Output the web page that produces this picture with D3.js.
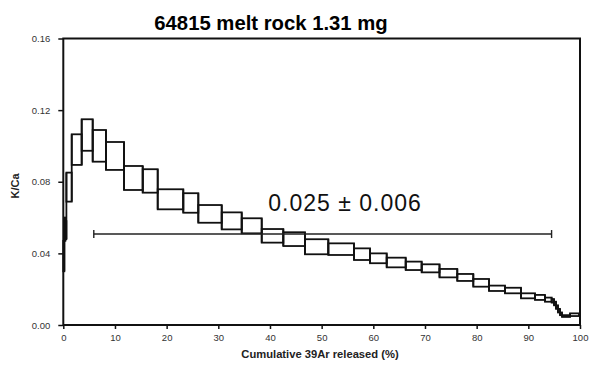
<!DOCTYPE html>
<html><head><meta charset="utf-8">
<script src="https://cdn.jsdelivr.net/npm/d3@7"></script>
<style>body{margin:0;background:#fff}</style>
</head><body>
<svg id="c" width="589" height="366"></svg>
<script>
// Step boundaries (cumulative % 39Ar released)
const stepStart = [0, 0.2, 0.4, 0.6, 1.63, 3.56, 5.69, 8.26, 11.75, 15.37, 18.27, 23.22, 26.13, 30.66, 34.53, 38.40, 42.58, 46.77, 51.29, 56.26, 59.36, 62.59, 66.27, 69.36, 72.81, 76.25, 79.35, 82.39, 85.48, 88.58, 91.29, 93.22, 94.52, 94.97, 95.36, 95.74, 96.13, 96.52, 98.07];
const stepEnd   = [0.2, 0.4, 0.6, 1.63, 3.56, 5.69, 8.26, 11.75, 15.37, 18.27, 23.22, 26.13, 30.66, 34.53, 38.40, 42.58, 46.77, 51.29, 56.26, 59.36, 62.59, 66.27, 69.36, 72.81, 76.25, 79.35, 82.39, 85.48, 88.58, 91.29, 93.22, 94.52, 94.97, 95.36, 95.74, 96.13, 96.52, 98.07, 99.8];
// K/Ca upper and lower bounds per step
const kcaHigh = [0.047, 0.060, 0.058, 0.0851, 0.1065, 0.1149, 0.1089, 0.1022, 0.0888, 0.0870, 0.0758, 0.0736, 0.0670, 0.0629, 0.0596, 0.0536, 0.0518, 0.0479, 0.0456, 0.0428, 0.0400, 0.0376, 0.0354, 0.0339, 0.0313, 0.0285, 0.0257, 0.0220, 0.0208, 0.0177, 0.0168, 0.0153, 0.0145, 0.0130, 0.0110, 0.0090, 0.0070, 0.0055, 0.0065];
const kcaLow  = [0.030, 0.047, 0.048, 0.0689, 0.0894, 0.0973, 0.0912, 0.0866, 0.0754, 0.0739, 0.0646, 0.0627, 0.0571, 0.0534, 0.0512, 0.0460, 0.0441, 0.0395, 0.0391, 0.0363, 0.0345, 0.0322, 0.0307, 0.0294, 0.0266, 0.0246, 0.0214, 0.0190, 0.0177, 0.0149, 0.0140, 0.0130, 0.0125, 0.0110, 0.0090, 0.0070, 0.0055, 0.0045, 0.0050];
// Averaged range bar
const barRange = [5.9, 94.5];
const barValue = 0.0508;
const barLabel = "0.025 \u00b1 0.006";
const xTicks = [0,10,20,30,40,50,60,70,80,90,100];
const yTicks = [0, 0.04, 0.08, 0.12, 0.16];
const title = "64815 melt rock 1.31 mg";
const xLabel = "Cumulative 39Ar released (%)";
const yLabel = "K/Ca";

const svg = d3.select("#c");
const L = 63.3, R = 580, T = 38.5, B = 325;
const x = d3.scaleLinear().domain([0,100]).range([L,R]);
const y = d3.scaleLinear().domain([0,0.16]).range([B,T]);

const font = "Arial, 'Liberation Sans', Helvetica, sans-serif";

// title
svg.append("text").attr("x",271).attr("y",29.5).attr("text-anchor","middle")
  .attr("font-family",font).attr("font-weight","bold").attr("font-size",20.3)
  .text(title);

// steps
const steps = stepStart.map((s,i)=>({s, e:stepEnd[i], hi:kcaHigh[i], lo:kcaLow[i]}));
const gs = svg.append("g");
gs.selectAll("rect").data(steps).join("rect")
  .attr("x",d=>x(d.s)).attr("y",d=>y(d.hi))
  .attr("width",d=>x(d.e)-x(d.s)).attr("height",d=>y(d.lo)-y(d.hi))
  .attr("fill","none").attr("stroke","#111").attr("stroke-width",1.8);
// vertical connectors between adjacent steps
const conns = steps.slice(1).map((d,i)=>({xv:d.s, top:Math.max(d.hi,steps[i].hi), bot:Math.min(d.lo,steps[i].lo)}));
gs.selectAll("line").data(conns).join("line")
  .attr("x1",d=>x(d.xv)).attr("x2",d=>x(d.xv)).attr("y1",d=>y(d.top)).attr("y2",d=>y(d.bot))
  .attr("stroke","#111").attr("stroke-width",1.8);

// range bar
const bg = svg.append("g").attr("stroke","#222").attr("stroke-width",1.4);
bg.append("line").attr("x1",x(barRange[0])).attr("x2",x(barRange[1])).attr("y1",y(barValue)).attr("y2",y(barValue));
barRange.forEach(v=>bg.append("line").attr("x1",x(v)).attr("x2",x(v)).attr("y1",y(barValue)-4).attr("y2",y(barValue)+4));
svg.append("text").attr("x",345).attr("y",210.5).attr("text-anchor","middle")
  .attr("font-family",font).attr("font-size",23).attr("letter-spacing",1).attr("fill","#111").text(barLabel);

// axes
const xAxis = d3.axisBottom(x).tickValues(xTicks).tickSize(4).tickPadding(5).tickFormat(d3.format("d"));
const gx = svg.append("g").attr("transform",`translate(0,${B})`).call(xAxis);
const yAxis = d3.axisLeft(y).tickValues(yTicks).tickSize(5).tickPadding(8).tickFormat(d3.format(".2f"));
const gy = svg.append("g").attr("transform",`translate(${L},0)`).call(yAxis);
[gx,gy].forEach(g=>{
  g.select(".domain").remove();
  g.selectAll(".tick line").attr("stroke","#111").attr("stroke-width",1.5);
  g.selectAll(".tick text").attr("font-family",font).attr("font-size",9.5).attr("fill","#333");
});
// frame
svg.append("rect").attr("x",L).attr("y",T).attr("width",R-L).attr("height",B-T)
  .attr("fill","none").attr("stroke","#111").attr("stroke-width",2);

// axis labels
svg.append("text").attr("x",320).attr("y",358).attr("text-anchor","middle")
  .attr("font-family",font).attr("font-weight","bold").attr("font-size",11.2).attr("fill","#222").text(xLabel);
svg.append("text").attr("transform","translate(19,186) rotate(-90)").attr("text-anchor","middle")
  .attr("font-family",font).attr("font-weight","bold").attr("font-size",11).attr("fill","#222").text(yLabel);
</script>
</body></html>
